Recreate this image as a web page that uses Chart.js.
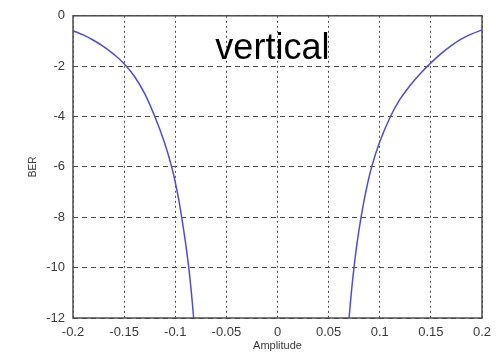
<!DOCTYPE html>
<html>
<head>
<meta charset="utf-8">
<script src="https://cdn.jsdelivr.net/npm/chart.js@4/dist/chart.umd.min.js"></script>
<style>
  html, body { margin: 0; padding: 0; background: #ffffff; }
  #wrap { width: 503px; height: 353px; }
</style>
</head>
<body>
<div id="wrap"><canvas id="c" width="503" height="353"></canvas></div>
<script>
// Bit error rate versus amplitude offset, vertical polarisation
const leftAmplitude = [-0.200, -0.190, -0.180, -0.170, -0.160, -0.150, -0.140, -0.130, -0.120, -0.1108, -0.1035, -0.0980, -0.0937, -0.0900, -0.0868, -0.0842, -0.0820];
const leftBer       = [-0.59, -0.76, -0.97, -1.22, -1.53, -1.90, -2.40, -3.08, -4.00, -5.00, -6.00, -7.00, -8.00, -9.00, -10.00, -11.00, -12.00];

const rightAmplitude = [0.0700, 0.0722, 0.0748, 0.0779, 0.0817, 0.0863, 0.0921, 0.1000, 0.1105, 0.120, 0.130, 0.140, 0.150, 0.160, 0.170, 0.180, 0.190, 0.200];
const rightBer       = [-12.00, -11.00, -10.00, -9.00, -8.00, -7.00, -6.00, -5.00, -4.00, -3.30, -2.75, -2.28, -1.87, -1.50, -1.18, -0.92, -0.72, -0.56];

const xTickValues = [-0.2, -0.15, -0.1, -0.05, 0, 0.05, 0.1, 0.15, 0.2];
const xTickLabels = ['-0.2', '-0.15', '-0.1', '-0.05', '0', '0.05', '0.1', '0.15', '0.2'];
const yTickValues = [0, -2, -4, -6, -8, -10, -12];
const yTickLabels = ['0', '-2', '-4', '-6', '-8', '-10', '-12'];

const plotTitle = 'vertical';
const xTitle = 'Amplitude';
const yTitle = 'BER';

const toPoints = (xs, ys) => xs.map((x, i) => ({ x: x, y: ys[i] }));

const lineColor = '#4d4dd9';
const tickFont = { family: '"Liberation Sans", Arial, sans-serif', size: 13 };

// Solid box round the axes area
const framePlugin = {
  id: 'frame',
  afterDraw(chart) {
    const { ctx, chartArea: a } = chart;
    ctx.save();
    ctx.strokeStyle = '#4d4d4d';
    ctx.lineWidth = 1.5;
    ctx.setLineDash([]);
    ctx.strokeRect(a.left, a.top, a.right - a.left, a.bottom - a.top);
    ctx.restore();
  }
};

// Caption written inside the axes, anchored at a data position
const captionPlugin = {
  id: 'caption',
  afterDatasetsDraw(chart, args, opts) {
    const { ctx, scales } = chart;
    ctx.save();
    ctx.font = opts.font;
    ctx.fillStyle = opts.color;
    ctx.textAlign = 'center';
    ctx.textBaseline = 'alphabetic';
    ctx.fillText(opts.text, scales.x.getPixelForValue(opts.x), scales.y.getPixelForValue(opts.y));
    ctx.restore();
  }
};

const curveStyle = {
  showLine: true,
  borderColor: lineColor,
  borderWidth: 1.5,
  pointRadius: 0,
  tension: 0.4
};

new Chart(document.getElementById('c'), {
  type: 'scatter',
  data: {
    datasets: [
      Object.assign({ data: toPoints(leftAmplitude, leftBer) }, curveStyle),
      Object.assign({ data: toPoints(rightAmplitude, rightBer) }, curveStyle)
    ]
  },
  options: {
    responsive: false,
    animation: false,
    events: [],
    layout: { padding: { left: 27, right: 21, top: 15, bottom: 0 } },
    plugins: {
      legend: { display: false },
      tooltip: { enabled: false },
      caption: {
        text: plotTitle,
        x: -0.005,
        y: -1.7,
        font: '36px "Liberation Sans", Arial, sans-serif',
        color: '#000000'
      }
    },
    scales: {
      x: {
        type: 'linear',
        min: -0.2,
        max: 0.2,
        afterBuildTicks: (s) => { s.ticks = xTickValues.map(v => ({ value: v })); },
        afterFit: (s) => { s.height = 35; },
        ticks: {
          font: tickFont,
          color: '#3a3a3a',
          padding: 7,
          maxRotation: 0,
          autoSkip: false,
          callback: (v) => { const i = xTickValues.indexOf(v); return i >= 0 ? xTickLabels[i] : ''; }
        },
        grid: { color: '#4a4a4a', lineWidth: 1, drawTicks: false },
        border: { display: false, dash: [2, 3] },
        title: {
          display: true,
          text: xTitle,
          font: { family: '"Liberation Sans", Arial, sans-serif', size: 11 },
          color: '#3a3a3a',
          padding: { top: 0, bottom: 0 }
        }
      },
      y: {
        type: 'linear',
        min: -12,
        max: 0,
        afterBuildTicks: (s) => { s.ticks = yTickValues.map(v => ({ value: v })); },
        afterFit: (s) => { s.width = 46; },
        ticks: {
          font: tickFont,
          color: '#3a3a3a',
          padding: 8,
          autoSkip: false,
          callback: (v) => { const i = yTickValues.indexOf(v); return i >= 0 ? yTickLabels[i] : ''; }
        },
        grid: { color: '#4a4a4a', lineWidth: 1, drawTicks: false },
        border: { display: false, dash: [5, 4] },
        title: {
          display: true,
          text: yTitle,
          font: { family: '"Liberation Sans", Arial, sans-serif', size: 10 },
          color: '#3a3a3a',
          padding: { top: 0, bottom: 0 }
        }
      }
    }
  },
  plugins: [framePlugin, captionPlugin]
});
</script>
</body>
</html>
